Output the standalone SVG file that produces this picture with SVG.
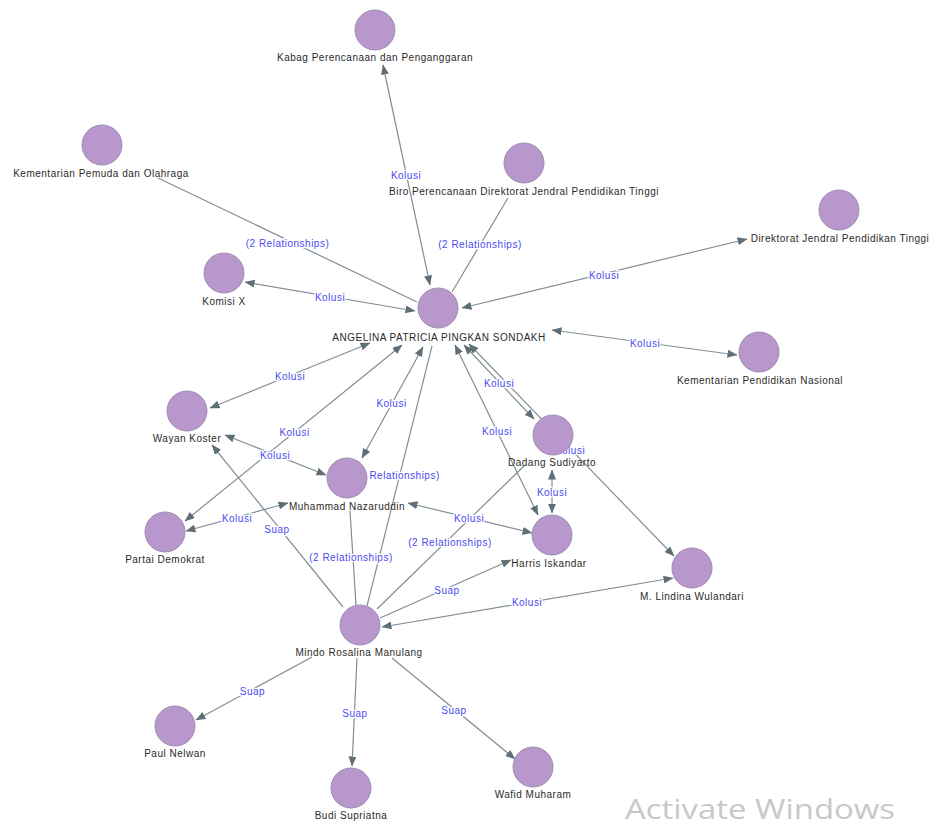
<svg xmlns="http://www.w3.org/2000/svg" width="931" height="828" viewBox="0 0 931 828">
<defs>
<marker id="arr" markerUnits="userSpaceOnUse" markerWidth="10" markerHeight="8" refX="9.5" refY="4" orient="auto-start-reverse">
<path d="M0,0 L10,4 L0,8 z" fill="#5f6f76"/>
</marker>
<style>
.e{stroke:#808f95;stroke-width:1.2;fill:none}
.b{marker-start:url(#arr);marker-end:url(#arr)}
.t{marker-end:url(#arr)}
.el{font-family:"Liberation Sans",Arial,sans-serif;font-size:10px;letter-spacing:0.5px;fill:#4a4af0;text-anchor:middle;paint-order:stroke;stroke:#ffffff;stroke-width:2.5px;stroke-linejoin:round}
.n circle{fill:#b898cc;stroke:#a08db4;stroke-width:1}
.n text{font-family:"Liberation Sans",Arial,sans-serif;font-size:10px;letter-spacing:0.5px;fill:#2a2a2a;text-anchor:middle}
</style>
</defs>
<rect width="931" height="828" fill="#ffffff"/>
<g id="connectors">
<line class="e b" x1="430" y1="285" x2="383" y2="65"/>
<line class="e" x1="158" y1="178" x2="417" y2="302"/>
<line class="e b" x1="245" y1="282" x2="415" y2="311"/>
<line class="e" x1="508" y1="198" x2="452" y2="292"/>
<line class="e b" x1="462" y1="308" x2="747" y2="239"/>
<line class="e b" x1="552" y1="330" x2="737" y2="355"/>
<line class="e b" x1="370" y1="343" x2="210" y2="408"/>
<line class="e b" x1="402" y1="345" x2="185" y2="521"/>
<line class="e b" x1="423" y1="347" x2="362" y2="458"/>
<line class="e" x1="432" y1="346" x2="367" y2="606"/>
<line class="e b" x1="455" y1="345" x2="538" y2="515"/>
<line class="e b" x1="464" y1="345" x2="534" y2="419"/>
<line class="e b" x1="469" y1="344" x2="674" y2="556"/>
<line class="e b" x1="552" y1="470" x2="552" y2="513"/>
<line class="e b" x1="408" y1="503" x2="532" y2="533"/>
<line class="e b" x1="225" y1="435" x2="326" y2="475"/>
<line class="e b" x1="186" y1="531" x2="288" y2="503"/>
<line class="e t" x1="343" y1="607" x2="212" y2="445"/>
<line class="e" x1="350" y1="511" x2="356" y2="605"/>
<line class="e" x1="524" y1="466" x2="377" y2="609"/>
<line class="e t" x1="380" y1="618" x2="511" y2="560"/>
<line class="e b" x1="382" y1="627" x2="673" y2="578"/>
<line class="e t" x1="312" y1="657" x2="196" y2="720"/>
<line class="e t" x1="357" y1="658" x2="352" y2="766"/>
<line class="e t" x1="392" y1="658" x2="515" y2="759"/>
<text class="el" x="406" y="178.5">Kolusi</text>
<text class="el" x="287.5" y="246.5">(2 Relationships)</text>
<text class="el" x="330" y="300.5">Kolusi</text>
<text class="el" x="480" y="247.5">(2 Relationships)</text>
<text class="el" x="604" y="278.5">Kolusi</text>
<text class="el" x="645" y="346.5">Kolusi</text>
<text class="el" x="290" y="379.5">Kolusi</text>
<text class="el" x="294.5" y="435.5">Kolusi</text>
<text class="el" x="391.5" y="406.5">Kolusi</text>
<text class="el" x="398" y="478.5">(2 Relationships)</text>
<text class="el" x="497" y="434.5">Kolusi</text>
<text class="el" x="499" y="386.5">Kolusi</text>
<text class="el" x="570" y="453.5">Kolusi</text>
<text class="el" x="552" y="495.5">Kolusi</text>
<text class="el" x="469" y="521.5">Kolusi</text>
<text class="el" x="275" y="458.5">Kolusi</text>
<text class="el" x="237" y="521.5">Kolusi</text>
<text class="el" x="277" y="532.5">Suap</text>
<text class="el" x="351" y="561">(2 Relationships)</text>
<text class="el" x="450" y="545.5">(2 Relationships)</text>
<text class="el" x="447" y="593.5">Suap</text>
<text class="el" x="527" y="605.5">Kolusi</text>
<text class="el" x="252.5" y="694.5">Suap</text>
<text class="el" x="355" y="716.5">Suap</text>
<text class="el" x="454" y="713.5">Suap</text>
</g>
<g id="n-kabag" class="n"><circle cx="375" cy="30" r="20"/><text x="375" y="61">Kabag Perencanaan dan Penganggaran</text></g>
<g id="n-pemuda" class="n"><circle cx="102" cy="145" r="20"/><text x="101" y="177">Kementarian Pemuda dan Olahraga</text></g>
<g id="n-biro" class="n"><circle cx="524" cy="163" r="20"/><text x="524" y="195">Biro Perencanaan Direktorat Jendral Pendidikan Tinggi</text></g>
<g id="n-dikti" class="n"><circle cx="839" cy="210" r="20"/><text x="840" y="242">Direktorat Jendral Pendidikan Tinggi</text></g>
<g id="n-komisi" class="n"><circle cx="224" cy="273" r="20"/><text x="224" y="305">Komisi X</text></g>
<g id="n-angelina" class="n"><circle cx="438" cy="308" r="20"/><text x="439" y="341">ANGELINA PATRICIA PINGKAN SONDAKH</text></g>
<g id="n-kemdiknas" class="n"><circle cx="759" cy="352" r="20"/><text x="760" y="384">Kementarian Pendidikan Nasional</text></g>
<g id="n-wayan" class="n"><circle cx="187" cy="411" r="20"/><text x="187" y="442">Wayan Koster</text></g>
<g id="n-dadang" class="n"><circle cx="553" cy="435" r="20"/><text x="552" y="466">Dadang Sudiyarto</text></g>
<g id="n-nazaruddin" class="n"><circle cx="347" cy="478" r="20"/><text x="347" y="510">Muhammad Nazaruddin</text></g>
<g id="n-demokrat" class="n"><circle cx="165" cy="532" r="20"/><text x="165" y="563">Partai Demokrat</text></g>
<g id="n-harris" class="n"><circle cx="552" cy="535" r="20"/><text x="549" y="566.5">Harris Iskandar</text></g>
<g id="n-lindina" class="n"><circle cx="692" cy="568" r="20"/><text x="692" y="600">M. Lindina Wulandari</text></g>
<g id="n-mindo" class="n"><circle cx="360" cy="625" r="20"/><text x="359" y="656">Mindo Rosalina Manulang</text></g>
<g id="n-paul" class="n"><circle cx="175" cy="726" r="20"/><text x="175" y="757">Paul Nelwan</text></g>
<g id="n-budi" class="n"><circle cx="351" cy="788" r="20"/><text x="351" y="819">Budi Supriatna</text></g>
<g id="n-wafid" class="n"><circle cx="533" cy="767" r="20"/><text x="533" y="798">Wafid Muharam</text></g>
<text x="625" y="819" font-family="'Open Sans','Noto Sans',sans-serif" font-size="27" fill="#c8c8c8" textLength="270" lengthAdjust="spacingAndGlyphs">Activate Windows</text>
</svg>
